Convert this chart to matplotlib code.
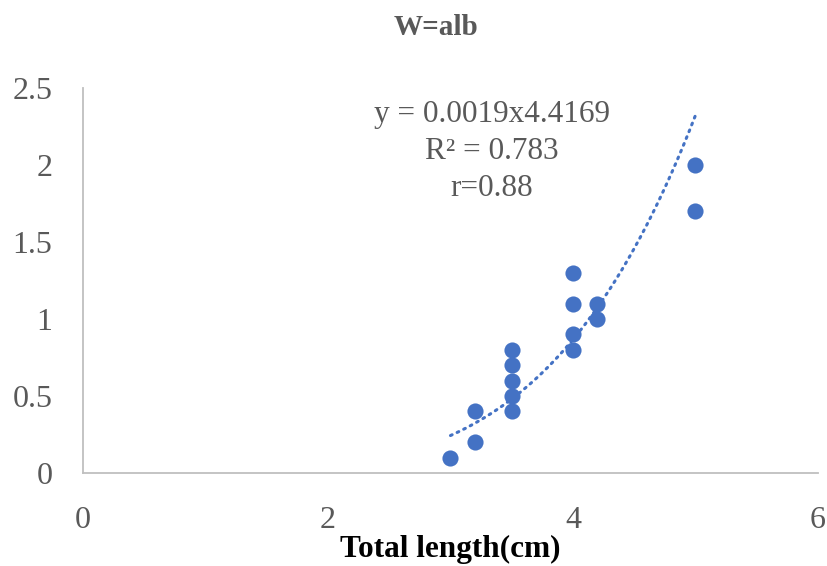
import matplotlib.pyplot as plt
import numpy as np

# Fish data: total length (cm) vs weight (g)
length_cm = [3.0, 3.2, 3.2, 3.5, 3.5, 3.5, 3.5, 3.5, 4.0, 4.0, 4.0, 4.0, 4.2, 4.2, 5.0, 5.0]
weight_g = [0.1, 0.4, 0.2, 0.4, 0.5, 0.6, 0.7, 0.8, 0.8, 0.9, 1.1, 1.3, 1.1, 1.0, 2.0, 1.7]

# Power trendline W = a * L^b
a, b = 0.0019, 4.4169
eq_lines = ['y = 0.0019x4.4169', 'R² = 0.783', 'r=0.88']
xticks = [0, 2, 4, 6]
yticks = [0, 0.5, 1, 1.5, 2, 2.5]
ylabels = ['0', '0.5', '1', '1.5', '2', '2.5']

plt.rcParams['font.family'] = ['Liberation Serif', 'DejaVu Serif']
grey = '#595959'
blue = '#4472C4'

fig = plt.figure(figsize=(8.28, 5.66), dpi=100, facecolor='w')
ax = fig.add_axes([0.1002, 0.1643, 0.8877, 0.6802])

ax.scatter(length_cm, weight_g, s=135, color=blue, zorder=3, linewidths=0)

xf = np.linspace(min(length_cm), max(length_cm), 200)
ax.plot(xf, a * xf ** b, linestyle=(0, (0.6, 1.8)), color=blue, linewidth=2.2,
        dash_capstyle='round', zorder=2)

ax.set_xlim(0, 6)
ax.set_ylim(0, 2.5)
ax.set_xticks(xticks)
ax.set_xticklabels([str(t) for t in xticks])
ax.set_yticks(yticks)
ax.set_yticklabels(ylabels)
ax.tick_params(axis='both', length=0, labelsize=23, labelcolor=grey)
ax.tick_params(axis='x', pad=24)
ax.tick_params(axis='y', pad=22)

for side in ['top', 'right']:
    ax.spines[side].set_visible(False)
for side in ['left', 'bottom']:
    ax.spines[side].set_color('#BFBFBF')
    ax.spines[side].set_linewidth(1.3)

ax.set_xlabel('Total length(cm)', fontsize=22.5, fontweight='bold', color='black', labelpad=0)
fig.text(0.526, 0.952, 'W=alb', fontsize=21, fontweight='bold', color=grey,
         ha='center', va='center')

for i, line in enumerate(eq_lines):
    ax.text(3.34, 2.325 - i * 0.24, line, fontsize=22.5, color=grey, ha='center', va='center')

plt.savefig('out.png', dpi=100)
